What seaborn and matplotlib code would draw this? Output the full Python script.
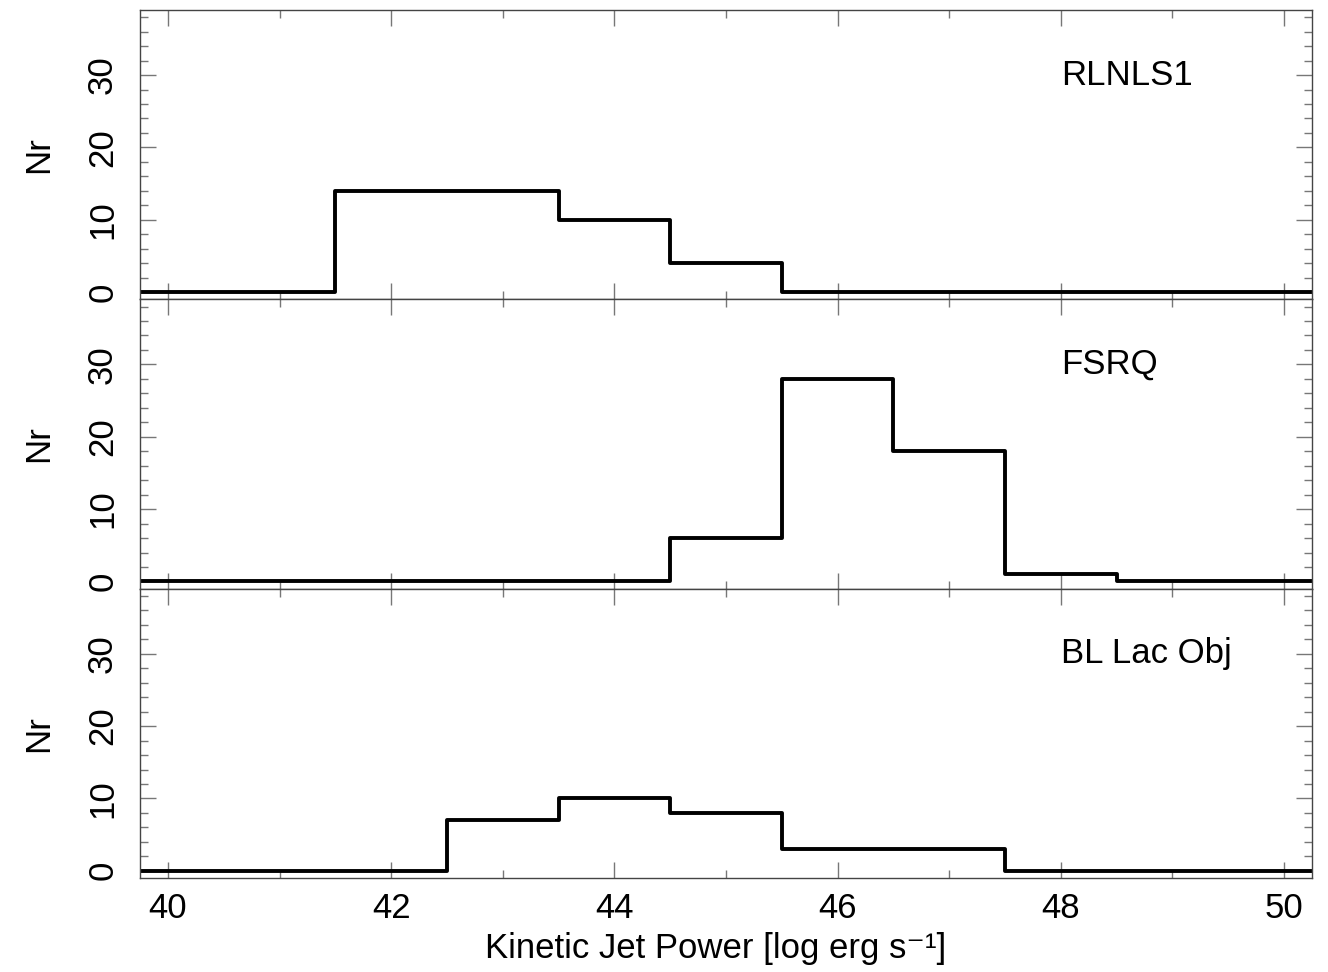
import numpy as np
import pandas as pd
import matplotlib
matplotlib.use("Agg")
import matplotlib.pyplot as plt
import seaborn as sns
from matplotlib.ticker import MultipleLocator

# ---- data ----
bin_centers = [40, 41, 42, 43, 44, 45, 46, 47, 48, 49, 50]
rlnls1_counts = [0, 0, 14, 14, 10, 4, 0, 0, 0, 0, 0]
fsrq_counts = [0, 0, 0, 0, 0, 6, 28, 18, 1, 0, 0]
bllac_counts = [0, 0, 0, 7, 10, 8, 3, 3, 0, 0, 0]
panel_names = ["RLNLS1", "FSRQ", "BL Lac Obj"]
x_ticks = [40, 42, 44, 46, 48, 50]
y_ticks = [0, 10, 20, 30]

sns.set_style("ticks")
plt.rcParams["font.family"] = ["Liberation Sans", "DejaVu Sans"]
plt.rcParams["text.color"] = "black"
plt.rcParams["axes.labelcolor"] = "black"
plt.rcParams["xtick.labelcolor"] = "black"
plt.rcParams["ytick.labelcolor"] = "black"

fig = plt.figure(figsize=(13.28, 9.72), dpi=100)
gs = fig.add_gridspec(3, 1, hspace=0, left=140/1328, right=1312/1328,
                      top=1-10/972, bottom=1-878/972)
axes = [fig.add_subplot(gs[i]) for i in range(3)]
for ax in axes[1:]:
    ax.sharex(axes[0])

series = [rlnls1_counts, fsrq_counts, bllac_counts]
spine_col = "#444444"
tick_col = "#777777"
fs = 25

for i, (ax, counts, name) in enumerate(zip(axes, series, panel_names)):
    df = pd.DataFrame({"x": bin_centers, "n": counts})
    sns.histplot(data=df, x="x", weights="n", discrete=True, element="step",
                 fill=False, color="black", linewidth=2.8, ax=ax)
    ax.set_xlim(39.75, 50.25)
    ax.set_ylim(-1, 39)
    ax.xaxis.set_major_locator(MultipleLocator(2))
    ax.xaxis.set_minor_locator(MultipleLocator(1))
    ax.set_yticks(y_ticks)
    ax.yaxis.set_minor_locator(MultipleLocator(2))
    ax.tick_params(which="both", direction="in", top=True, right=True,
                   color=tick_col, width=1.0, labelcolor="black")
    ax.tick_params(which="major", length=11.5)
    ax.tick_params(which="minor", length=5.5)
    ax.tick_params(axis="y", labelsize=fs, labelrotation=90, pad=15)
    ax.tick_params(axis="x", labelsize=fs, pad=10)
    for lab in ax.get_yticklabels():
        lab.set_va("center")
    for sp in ax.spines.values():
        sp.set_visible(True)
        sp.set_color(spine_col)
        sp.set_linewidth(1.0)
    ax.set_ylabel("Nr", fontsize=fs, labelpad=22, color="black")
    ax.text(48.0, 30, name, fontsize=fs, ha="left", va="center", color="black")
    if i < 2:
        ax.tick_params(axis="x", labelbottom=False)
        ax.set_xlabel("")
    else:
        ax.set_xticks(x_ticks)
        ax.set_xlabel("Kinetic Jet Power [log erg s\u207b\u00b9]", fontsize=fs,
                      labelpad=5, color="black", x=(716 - 140) / 1172)

fig.savefig("out.png", dpi=100)
